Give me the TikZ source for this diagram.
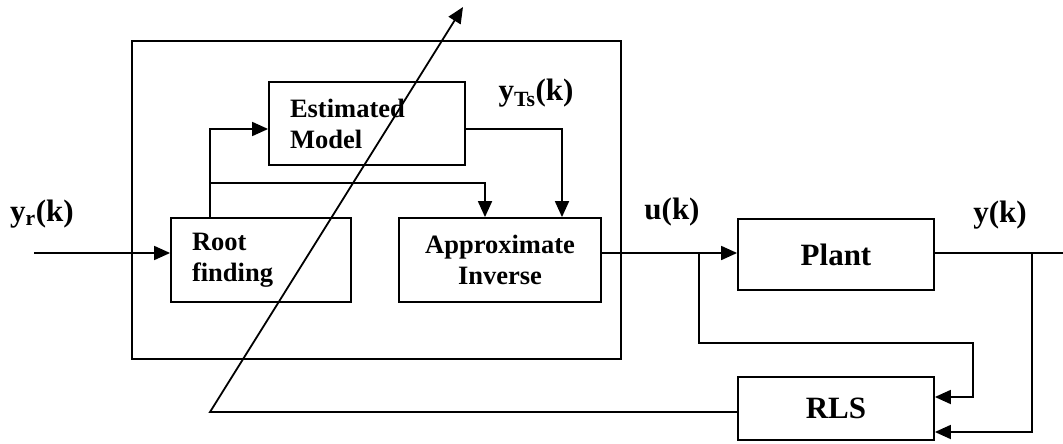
\documentclass[tikz,border=0pt]{standalone}
\usepackage{fontspec}
\setmainfont{Liberation Serif}
\usetikzlibrary{arrows.meta}
\tikzset{
  ln/.style={line width=1.8pt},
  arr/.style={ln,-{Triangle[length=16pt,width=14pt]}},
  box/.style={draw,line width=1.8pt,inner sep=0pt,font=\fontsize{26.5}{31}\selectfont\bfseries},
  bigbox/.style={draw,line width=1.8pt,inner sep=0pt,font=\fontsize{31}{36}\selectfont\bfseries},
  lab/.style={inner sep=0pt,font=\fontsize{31}{36}\selectfont\bfseries},
}
\begin{document}
\begin{tikzpicture}[x=1pt,y=-1pt]
\useasboundingbox (0,0) rectangle (1063,444);
% outer controller frame
\node[draw,line width=1.8pt,minimum width=489pt,minimum height=318pt,inner sep=0pt] (ctrl) at (376.5,200) {};
% blocks
\node[box,minimum height=83pt,text width=154pt,inner xsep=21pt,align=left] (est) at (367,123.5) {Estimated\\Model};
\node[box,minimum height=84pt,text width=138pt,inner xsep=21pt,align=left] (root) at (261,260) {Root\\finding};
\node[box,minimum height=84pt,minimum width=202pt,align=center] (inv) at (500,260) {Approximate\\Inverse};
\node[bigbox,minimum height=71pt,minimum width=196pt] (plant) at (836,254.5) {Plant};
\node[bigbox,minimum height=63pt,minimum width=196pt] (rls) at (836,408.5) {RLS};
% labels
\node[lab] (yr) at (42,214) {y\textsubscript{r}(k)};
\node[lab] (yts) at (536,93) {y\textsubscript{Ts}(k)};
\node[lab] (uk) at (672,212) {u(k)};
\node[lab] (yk) at (1000,215) {y(k)};
% junctions and free ends
\coordinate (in) at (34,253);
\coordinate (j1) at (210,183);
\coordinate (j2) at (699,253);
\coordinate (j3) at (1032,253);
\coordinate (out) at (1063,253);
\coordinate (tip) at (463,7);
% connectors
\draw[arr] (in) -- (in -| root.west);
\draw[arr] (root.north -| 210,0) |- (est.west |- 0,129);
\draw[arr] (j1) -| (inv.north -| 485,0);
\draw[arr] (est.east |- 0,129) -| (inv.north -| 562,0);
\draw[arr] (inv.east |- 0,253) -- (plant.west |- 0,253);
\draw[arr] (j2) |- (973,343) |- (rls.east |- 0,397);
\draw[ln] (plant.east |- 0,253) -- (out);
\draw[arr] (j3) |- (rls.east |- 0,432);
\draw[arr] (rls.west |- 0,412) -- (210,412) -- (tip);
\end{tikzpicture}
\end{document}
